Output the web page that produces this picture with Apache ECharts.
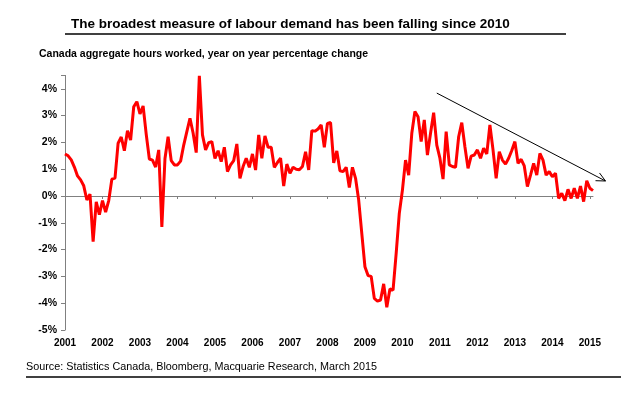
<!DOCTYPE html>
<html lang="en">
<head>
<meta charset="UTF-8">
<title>Canada aggregate hours worked</title>
<script src="https://cdn.jsdelivr.net/npm/echarts@6/dist/echarts.min.js"></script>
<style>html,body{margin:0;padding:0;background:#fff;}</style>
</head>
<body>
<div id="main" style="width:638px;height:396px;"></div>
<script>
// year labels on the x axis (one per January)
var years = ['2001','2002','2003','2004','2005','2006','2007','2008','2009','2010','2011','2012','2013','2014','2015'];

// aggregate hours worked, y/y % change, monthly
var hrs2001 = [1.57,1.5,1.35,1.08,0.75,0.6,0.38,-0.15,0.07,-1.7,-0.22,-0.7];
var hrs2002 = [-0.17,-0.6,-0.17,0.63,0.67,1.97,2.2,1.69,2.44,2.09,3.33,3.52];
var hrs2003 = [3.06,3.36,2.3,1.38,1.34,1.08,1.72,-1.15,1.4,2.21,1.32,1.16];
var hrs2004 = [1.16,1.3,1.9,2.4,2.9,2.35,1.62,4.48,2.28,1.72,1.99,2.03];
var hrs2005 = [1.4,1.69,1.28,1.82,0.91,1.16,1.32,1.94,0.66,1.1,1.41,1.07];
var hrs2006 = [1.57,0.97,2.28,1.41,2.24,1.82,1.82,1.07,1.25,1.41,0.37,1.19];
var hrs2007 = [0.85,1.07,1.0,0.98,1.1,1.65,0.97,2.44,2.42,2.5,2.65,1.82];
var hrs2008 = [2.71,2.74,1.24,1.68,0.94,0.91,1.07,0.32,1.07,0.66,-0.15,-1.4];
var hrs2009 = [-2.64,-2.97,-3.0,-3.82,-3.92,-3.88,-3.28,-4.15,-3.47,-3.51,-2.14,-0.65];
var hrs2010 = [0.22,1.34,0.78,2.34,3.15,2.96,2.03,2.84,1.53,2.34,3.11,1.9];
var hrs2011 = [1.41,0.63,2.4,1.16,1.1,1.07,2.21,2.74,1.84,1.03,1.49,1.53];
var hrs2012 = [1.72,1.41,1.78,1.57,2.65,1.72,0.66,1.65,1.34,1.19,1.41,1.7];
var hrs2013 = [2.03,1.22,1.37,1.12,0.35,0.78,1.22,0.78,1.59,1.34,0.78,0.91];
var hrs2014 = [0.72,0.85,-0.09,0.1,-0.17,0.25,-0.09,0.29,-0.09,0.37,-0.21,0.57];
var hrs2015 = [0.29,0.2];

// trend arrow, in data units [month index, %]
var arrowFrom = [119.4, 3.84];
var arrowTo = [173.2, 0.56];

var hours = [].concat(hrs2001, hrs2002, hrs2003, hrs2004, hrs2005, hrs2006, hrs2007,
    hrs2008, hrs2009, hrs2010, hrs2011, hrs2012, hrs2013, hrs2014, hrs2015);
var months = [];
for (var i = 0; i < hours.length; i++) {
    var y = years[Math.floor(i / 12)];
    var m = i % 12 + 1;
    months.push(y + '-' + (m < 10 ? '0' + m : m));
}
function isJan(idx, val) { return val.slice(5) === '01'; }

var font = 'Arial, "Liberation Sans", sans-serif';
var chart = echarts.init(document.getElementById('main'));
chart.setOption({
    animation: false,
    backgroundColor: '#fff',
    title: [{
        text: 'The broadest measure of labour demand has been falling since 2010',
        left: 71, top: 17, padding: 0,
        textStyle: {fontFamily: font, fontSize: 13.5, fontWeight: 'bold', color: '#000'}
    }, {
        text: 'Canada aggregate hours worked, year on year percentage change',
        left: 39, top: 48.5, padding: 0,
        textStyle: {fontFamily: font, fontSize: 10.5, fontWeight: 'bold', color: '#000'}
    }, {
        text: 'Source: Statistics Canada, Bloomberg, Macquarie Research, March 2015',
        left: 26, top: 362, padding: 0,
        textStyle: {fontFamily: font, fontSize: 10.8, fontWeight: 'normal', color: '#000'}
    }],
    grid: {left: 65, right: 45, top: 75.4, bottom: 66},
    xAxis: [{
        type: 'category', data: months, boundaryGap: false,
        axisLine: {onZero: true, lineStyle: {color: '#808080', width: 1}},
        axisTick: {interval: isJan, length: 3, lineStyle: {color: '#808080'}},
        axisLabel: {show: false}
    }, {
        type: 'category', data: months, boundaryGap: false, position: 'bottom',
        axisLine: {show: false, onZero: false},
        axisTick: {show: false},
        axisLabel: {
            interval: isJan, margin: 8,
            formatter: function (v) { return v.slice(0, 4); },
            fontFamily: font, fontSize: 10, fontWeight: 'bold', color: '#000'
        }
    }],
    yAxis: {
        type: 'value', min: -5, max: 4.5, interval: 1,
        axisLine: {show: true, lineStyle: {color: '#808080', width: 1}},
        axisTick: {show: true, length: 4, lineStyle: {color: '#808080'}},
        splitLine: {show: false},
        axisLabel: {
            margin: 8, fontFamily: font, fontSize: 10.5, fontWeight: 'bold', color: '#000',
            formatter: function (v) { return v % 1 === 0 ? v + '%' : ''; }
        }
    },
    series: [{
        type: 'line', data: hours, xAxisIndex: 0,
        symbol: 'none', lineStyle: {color: '#ff0000', width: 3}
    }]
});

// rules under the title and above the footer, and the trend arrow
var p1 = chart.convertToPixel({gridIndex: 0}, arrowFrom);
var p2 = chart.convertToPixel({gridIndex: 0}, arrowTo);
var ang = Math.atan2(p2[1] - p1[1], p2[0] - p1[0]);
var hl = 10, spread = 0.45;
var h1 = [p2[0] - hl * Math.cos(ang - spread), p2[1] - hl * Math.sin(ang - spread)];
var h2 = [p2[0] - hl * Math.cos(ang + spread), p2[1] - hl * Math.sin(ang + spread)];
chart.setOption({
    graphic: [
        {type: 'line', shape: {x1: 65, y1: 34, x2: 566, y2: 34}, style: {stroke: '#000', lineWidth: 1.5}},
        {type: 'line', shape: {x1: 26, y1: 377, x2: 621, y2: 377}, style: {stroke: '#000', lineWidth: 1.5}},
        {type: 'line', shape: {x1: p1[0], y1: p1[1], x2: p2[0], y2: p2[1]}, style: {stroke: '#000', lineWidth: 1}},
        {type: 'polyline', shape: {points: [h1, p2, h2]}, style: {stroke: '#000', lineWidth: 1, fill: null}}
    ]
});
</script>
</body>
</html>
